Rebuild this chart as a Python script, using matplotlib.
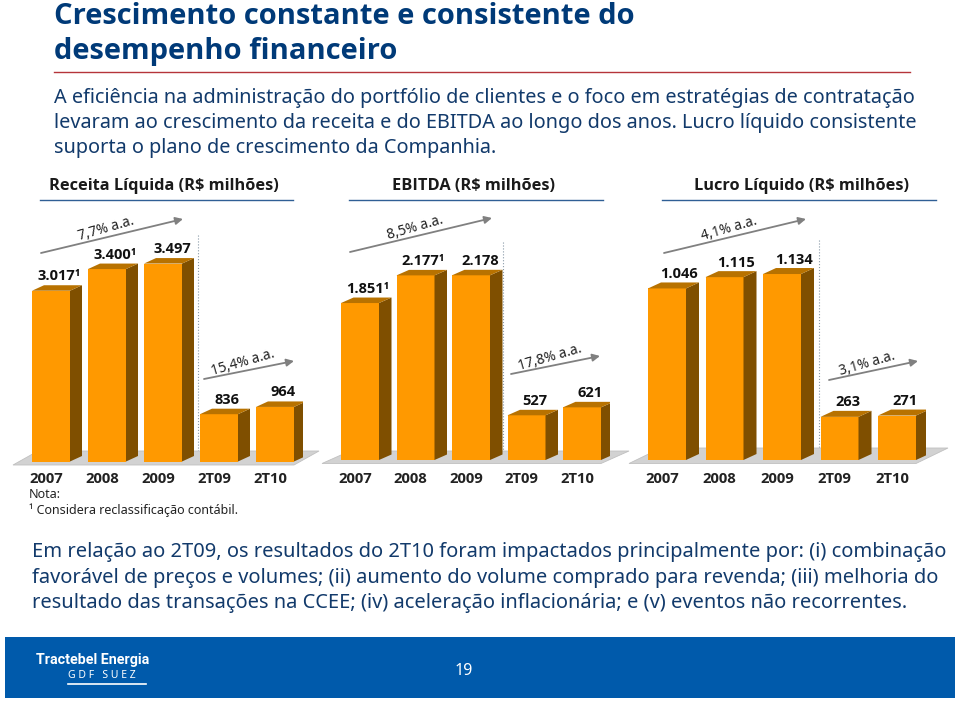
import matplotlib
matplotlib.use('Agg')
import matplotlib.pyplot as plt
from matplotlib.patches import Polygon, Rectangle

plt.rcParams['font.family'] = ['Noto Sans', 'DejaVu Sans']

categorias = ['2007', '2008', '2009', '2T09', '2T10']
receita = [3017, 3400, 3497, 836, 964]
ebitda = [1851, 2177, 2178, 527, 621]
lucro = [1046, 1115, 1134, 263, 271]
receita_txt = ['3.017¹', '3.400¹', '3.497', '836', '964']
ebitda_txt = ['1.851¹', '2.177¹', '2.178', '527', '621']
lucro_txt = ['1.046', '1.115', '1.134', '263', '271']
titulos = ['Receita Líquida (R$ milhões)', 'EBITDA (R$ milhões)', 'Lucro Líquido (R$ milhões)']
taxas = [('7,7% a.a.', '15,4% a.a.'), ('8,5% a.a.', '17,8% a.a.'), ('4,1% a.a.', '3,1% a.a.')]

AZUL = '#003a78'
TEXTO = '#123a6b'
W, H = 960, 701
LARG = 38.0
NEGRITO = ['Open Sans', 'DejaVu Sans']

fig = plt.figure(figsize=(W / 100, H / 100), dpi=100)
bg = fig.add_axes([0, 0, 1, 1])
bg.set_xlim(0, W)
bg.set_ylim(H, 0)
bg.axis('off')


def painel(valores, rotulos, x0, passo, base, escala, titulo, sub, taxa, seta1, seta2, sep, desl, chao, prof):
    # eixo de cada grafico: x = indice da categoria, y = valor
    alt = 240
    ax = fig.add_axes([(x0 - passo / 2) / W, (H - base) / H, 5 * passo / W, alt / H])
    ax.set_xlim(-0.5, 4.5)
    ax.set_ylim(0, alt / escala)
    ax.axis('off')
    px = 1 / passo
    un = 1 / escala
    larg = LARG * px
    dx = prof[0] * px
    dy = prof[1] * un

    # chao cinza
    fl = -19 * px - 19 * px
    fr = 4 + 19 * px
    ax.add_patch(Polygon([(fl, -3.5 * un), (fr, -3.5 * un), (fr + chao[0] * px, chao[1] * un), (fl + chao[0] * px, chao[1] * un)],
                         closed=True, fc='#d2d2d2', ec='#c0c0c0', lw=0.6, clip_on=False, zorder=1))
    ax.bar(range(5), valores, width=larg, color='#ff9900', zorder=3, clip_on=False)
    for i, v in enumerate(valores):
        l = i - larg / 2
        r = i + larg / 2
        ax.add_patch(Polygon([(r, 0), (r + dx, dy), (r + dx, v + dy), (r, v)], closed=True, fc='#7f4f00', ec='none', zorder=3))
        ax.add_patch(Polygon([(l, v), (l + dx, v + dy), (r + dx, v + dy), (r, v)], closed=True, fc='#b87200', ec='none', zorder=3))
        ax.text(i + desl[i] * px, v + 14.5 * un, rotulos[i], ha='center', va='center', fontsize=10.5,
                fontweight='bold', family=NEGRITO, color='#111111', zorder=4)
        bg.text(x0 + i * passo - 5, 479, categorias[i], ha='center', va='center', fontsize=10.7,
                fontweight='bold', family=NEGRITO, color='#222222')

    # titulo e linha azul
    bg.text(sub[2], 186.5, titulo, ha='center', va='center', fontsize=11.8, fontweight='bold', family=NEGRITO, color='#1a1a1a')
    bg.plot(sub[:2], [200, 200], color='#2f5f95', lw=1)
    bg.plot([sep[0], sep[0]], [sep[1], base], color='#8a9aa8', lw=0.8, ls=':')

    for s, t in zip((seta1, seta2), taxa):
        bg.annotate('', xy=s[2:4], xytext=s[:2],
                    arrowprops=dict(arrowstyle='-|>', color='#808080', lw=1.3, mutation_scale=11, shrinkA=0, shrinkB=0))
        bg.text((s[0] + s[2]) / 2 - 6, (s[1] + s[3]) / 2 - 7, t, ha='center', va='center',
                rotation=16, fontsize=10, color='#222222', rotation_mode='anchor')


painel(receita, receita_txt, 51, 56, 461.5, 0.0566, titulos[0], (40, 293, 164), taxas[0],
       (41, 253, 183, 219), (204, 379, 294, 361), (197.5, 235), [8, 8, 9, 8, 8], (25, 10.5), (12, 5.5))
painel(ebitda, ebitda_txt, 360, 55.5, 460, 0.0848, titulos[1], (349, 603, 474), taxas[1],
       (350, 252, 492, 218), (511, 374, 600, 356), (503, 242), [8, 8, 9, 8, 8], (28, 9), (12.5, 5.5))
painel(lucro, lucro_txt, 667, 57.5, 460, 0.164, titulos[2], (662, 936, 801), taxas[2],
       (664, 253, 806, 219), (829, 380, 918, 361), (818.5, 240), [12, 12, 12, 8, 8], (32, 12), (13, 6))

# cabecalho
bg.text(54, 17, 'Crescimento constante e consistente do', fontsize=21, fontweight='bold', family=NEGRITO, color=AZUL, va='center')
bg.text(54, 51, 'desempenho financeiro', fontsize=21, fontweight='bold', family=NEGRITO, color=AZUL, va='center')
bg.plot([54, 910], [72, 72], color='#b5343a', lw=1)
for y, s in zip((98, 123, 148), ('A eficiência na administração do portfólio de clientes e o foco em estratégias de contratação',
                                 'levaram ao crescimento da receita e do EBITDA ao longo dos anos. Lucro líquido consistente',
                                 'suporta o plano de crescimento da Companhia.')):
    bg.text(54, y, s, fontsize=14.3, color=TEXTO, va='center')

bg.text(29, 494, 'Nota:', fontsize=9, color='#222222', va='center')
bg.text(29, 510, '¹ Considera reclassificação contábil.', fontsize=9, color='#222222', va='center')

for y, s in zip((552, 578, 603), ('Em relação ao 2T09, os resultados do 2T10 foram impactados principalmente por: (i) combinação',
                                  'favorável de preços e volumes; (ii) aumento do volume comprado para revenda; (iii) melhoria do',
                                  'resultado das transações na CCEE; (iv) aceleração inflacionária; e (v) eventos não recorrentes.')):
    bg.text(32, y, s, fontsize=14.43, color=TEXTO, va='center')

# rodape
bg.add_patch(Rectangle((5, 637), 950, 61, fc='#005aab', ec='none'))
bg.text(36, 660, 'Tractebel Energia', fontsize=10.3, fontweight='bold', family='Roboto', color='white', va='center')
bg.text(68, 675, 'G D F   S U E Z', fontsize=7.5, color='white', va='center')
bg.plot([68, 146], [684, 684], color='white', lw=1.2)
bg.text(464, 671, '19', fontsize=11.5, color='white', ha='center', va='center')

fig.savefig('out.png', dpi=100)
